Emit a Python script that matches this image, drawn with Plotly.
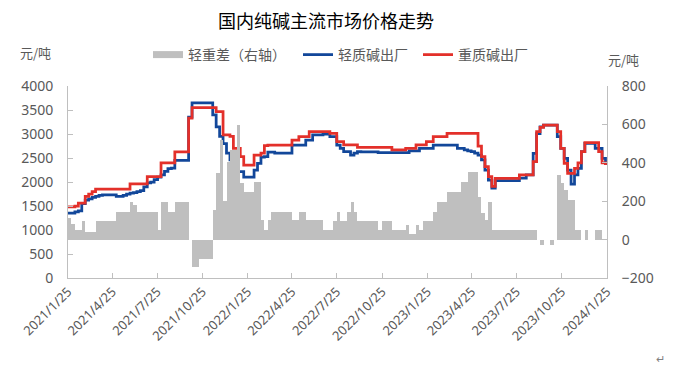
import pandas as pd
import plotly.graph_objects as go

# weekly observation dates
start_date = "2021-01-25"
n_weeks = 157

# 轻质碱出厂 (元/吨)
light = [
    1350, 1350, 1380, 1400, 1550, 1620, 1650, 1680, 1700, 1720,
    1730, 1730, 1730, 1730, 1700, 1700, 1720, 1750, 1770, 1780,
    1800, 1820, 1900, 1980, 2000, 2050, 2100, 2150, 2220, 2280,
    2290, 2450, 2450, 2450, 2450, 3350, 3650, 3650, 3650, 3650,
    3650, 3650, 3400, 3150, 2950, 2800, 2600, 2460, 2320, 2215,
    2215, 2100, 2100, 2100, 2250, 2390, 2520, 2530, 2620, 2620,
    2600, 2600, 2600, 2600, 2600, 2770, 2770, 2770, 2770, 2875,
    2875, 2980, 2980, 2980, 3000, 3000, 2944, 2944, 2770, 2700,
    2632, 2632, 2562, 2600, 2632, 2630, 2630, 2630, 2630, 2630,
    2610, 2610, 2610, 2610, 2610, 2610, 2610, 2610, 2610, 2650,
    2650, 2650, 2700, 2700, 2700, 2700, 2770, 2770, 2770, 2770,
    2770, 2770, 2770, 2700, 2700, 2670, 2650, 2632, 2600, 2560,
    2460, 2250, 2040, 1870, 2030, 2030, 2030, 2030, 2030, 2030,
    2030, 2080, 2080, 2146, 2146, 2597, 3010, 3150, 3187, 3187,
    3187, 3187, 2944, 2701, 2493, 2250, 1958, 2146, 2285, 2632,
    2806, 2806, 2806, 2701, 2701, 2493, 2354,
]

# 重质碱出厂 (元/吨)
heavy = [
    1480, 1480, 1500, 1560, 1560, 1700, 1750, 1800, 1850, 1854,
    1850, 1850, 1850, 1850, 1850, 1850, 1850, 1850, 1960, 1960,
    1960, 1960, 1960, 2110, 2110, 2110, 2110, 2400, 2400, 2400,
    2400, 2630, 2630, 2630, 2630, 3330, 3550, 3550, 3550, 3550,
    3550, 3550, 3550, 3465, 3465, 2980, 2980, 2950, 2700, 2700,
    2527, 2354, 2354, 2354, 2562, 2562, 2600, 2757, 2770, 2770,
    2770, 2770, 2770, 2770, 2770, 2875, 2875, 2944, 2944, 2944,
    3048, 3048, 3048, 3048, 3048, 3048, 3014, 3014, 2840, 2840,
    2771, 2771, 2771, 2771, 2722, 2722, 2722, 2722, 2722, 2722,
    2722, 2722, 2722, 2722, 2667, 2667, 2667, 2667, 2701, 2701,
    2701, 2771, 2771, 2771, 2840, 2840, 2944, 2944, 2944, 2944,
    3014, 3014, 3014, 3014, 3014, 3014, 3014, 3014, 3014, 2750,
    2527, 2319, 2111, 1910, 2076, 2076, 2076, 2076, 2076, 2076,
    2076, 2146, 2146, 2146, 2146, 2424, 3048, 3139, 3187, 3187,
    3187, 3187, 3048, 2701, 2389, 2180, 2180, 2285, 2400, 2632,
    2820, 2820, 2820, 2820, 2632, 2400, 2354,
]

# 轻重差（右轴）(元/吨)
diff = [
    110, 80, 50, 50, 97, 40, 40, 40, 97, 97,
    97, 97, 97, 97, 145, 145, 145, 145, 197, 180,
    145, 145, 145, 145, 145, 145, 50, 197, 197, 145,
    145, 197, 197, 197, 197, 0, -141, -141, -100, -100,
    -100, -100, 154, 345, 520, 200, 405, 466, 466, 597,
    293, 250, 250, 250, 298, 298, 102, 50, 102, 145,
    145, 145, 145, 145, 145, 102, 102, 145, 145, 102,
    102, 102, 102, 102, 50, 50, 50, 97, 145, 97,
    97, 145, 197, 145, 97, 97, 97, 97, 97, 97,
    50, 97, 97, 97, 50, 50, 50, 50, 76, 29,
    29, 76, 50, 97, 97, 97, 145, 197, 197, 197,
    250, 250, 250, 250, 302, 302, 354, 354, 354, 224,
    137, 102, 197, 50, 50, 50, 50, 50, 50, 50,
    50, 50, 50, 50, 50, 50, 0, -30, 0, 0,
    -30, 0, 336, 293, 258, 206, 206, 50, 50, 0,
    50, 0, 0, 50, 50, 0, 0,
]

x_tick_vals = ["2021-01-25", "2021-04-25", "2021-07-25", "2021-10-25",
               "2022-01-25", "2022-04-25", "2022-07-25", "2022-10-25",
               "2023-01-25", "2023-04-25", "2023-07-25", "2023-10-25",
               "2024-01-25"]
x_tick_text = ["2021/1/25", "2021/4/25", "2021/7/25", "2021/10/25",
               "2022/1/25", "2022/4/25", "2022/7/25", "2022/10/25",
               "2023/1/25", "2023/4/25", "2023/7/25", "2023/10/25",
               "2024/1/25"]

dates = pd.date_range(start_date, periods=n_weeks, freq="7D")

FONT = "Noto Sans, Noto Sans CJK SC"
CJK = "Noto Sans CJK SC"
GREY_TXT = "#595959"
AXIS_COL = "#BFBFBF"
BAR_COL = "#BFBFBF"
BLUE = "#12479A"
RED = "#E3302A"

# the page body adds an 8px offset, so the figure is 668x365
W, H = 668, 365
L, R, T, B = 60, 69, 78, 95
PH = H - T - B  # plot height in px
PW = W - L - R  # plot width in px


def px_x(px):  # screen px -> paper x
    return (px - 68) / PW


def px_y(py):  # screen px -> paper y
    return (278 - py) / PH


fig = go.Figure()
fig.add_trace(go.Bar(
    x=dates, y=diff, name="轻重差（右轴）", yaxis="y2", showlegend=False,
    marker=dict(color=BAR_COL, line=dict(width=0)),
    width=7 * 86400000, offset=0,
))
# legend swatch for the bar series (wide grey box like the original)
fig.add_trace(go.Scatter(
    x=[None], y=[None], name="轻重差（右轴）", mode="lines", legend="legend",
    line=dict(color=BAR_COL, width=7),
))
fig.add_trace(go.Scatter(
    x=dates, y=light, name="轻质碱出厂", mode="lines", legend="legend2",
    line=dict(color=BLUE, width=2.75, shape="hv"),
))
fig.add_trace(go.Scatter(
    x=dates, y=heavy, name="重质碱出厂", mode="lines", legend="legend3",
    line=dict(color=RED, width=2.75, shape="hv"),
))

leg_common = dict(orientation="h", xanchor="left", yanchor="middle",
                  y=px_y(55), font=dict(family=CJK, size=14, color=GREY_TXT),
                  bgcolor="rgba(0,0,0,0)", borderwidth=0)

fig.update_layout(
    width=W, height=H,
    margin=dict(l=L, r=R, t=T, b=B, autoexpand=False),
    paper_bgcolor="white", plot_bgcolor="white",
    font=dict(family=FONT, size=12, color=GREY_TXT),
    title=dict(text="国内纯碱主流市场价格走势", x=(326 - 8) / W, xanchor="center",
               y=1 - 14 / H, yanchor="middle",
               font=dict(family=CJK, size=18, color="#000000")),
    showlegend=True,
    legend=dict(x=px_x(148), **leg_common),
    legend2=dict(x=px_x(298), **leg_common),
    legend3=dict(x=px_x(418), **leg_common),
    bargap=0,
    xaxis=dict(
        type="date", range=["2021-01-25", "2024-01-25"], automargin=False,
        tickmode="array", tickvals=x_tick_vals, ticktext=x_tick_text,
        tickangle=-45, showgrid=False, showline=True, linecolor=AXIS_COL,
        linewidth=1, ticks="inside", ticklen=5, tickcolor=AXIS_COL,
        tickfont=dict(family=FONT, size=13, color=GREY_TXT), zeroline=False,
    ),
    yaxis=dict(
        range=[0, 4000], dtick=500, tick0=0, showgrid=False, showline=True,
        automargin=False, ticklabelstandoff=11,
        linecolor=AXIS_COL, linewidth=1, ticks="inside", ticklen=5,
        tickcolor=AXIS_COL, tickfont=dict(family=FONT, size=14, color=GREY_TXT),
        zeroline=False,
    ),
    yaxis2=dict(
        range=[-200, 800], dtick=200, tick0=0, overlaying="y", side="right",
        automargin=False, ticklabelstandoff=11,
        showgrid=False, showline=True, linecolor=AXIS_COL, linewidth=1,
        ticks="inside", ticklen=5, tickcolor=AXIS_COL,
        tickfont=dict(family=FONT, size=14, color=GREY_TXT), zeroline=False,
    ),
    annotations=[
        dict(text="元/吨", xref="paper", yref="paper", x=px_x(35), y=px_y(52),
             xanchor="center", yanchor="middle", showarrow=False,
             font=dict(family=CJK, size=13, color=GREY_TXT)),
        dict(text="元/吨", xref="paper", yref="paper", x=px_x(623), y=px_y(60),
             xanchor="center", yanchor="middle", showarrow=False,
             font=dict(family=CJK, size=13, color=GREY_TXT)),
        dict(text="↵", xref="paper", yref="paper", x=px_x(660), y=px_y(358),
             xanchor="center", yanchor="middle", showarrow=False,
             font=dict(family=CJK, size=11, color="#808080")),
    ],
)

fig.write_html("out.html")
